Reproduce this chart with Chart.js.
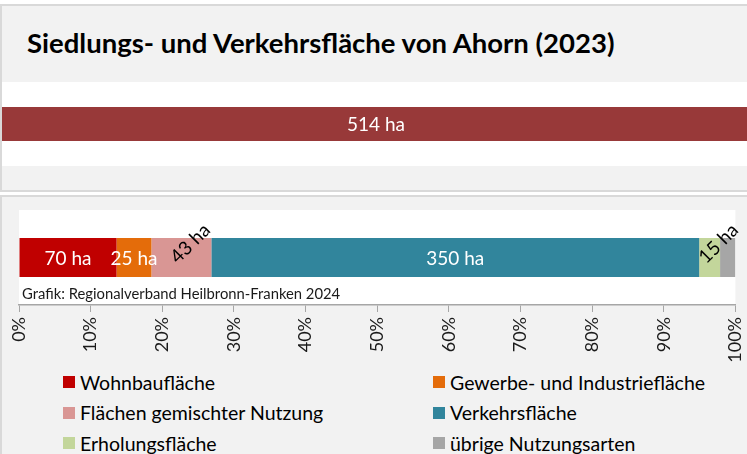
<!DOCTYPE html>
<html lang="de">
<head>
<meta charset="utf-8">
<title>Siedlungs- und Verkehrsfläche von Ahorn (2023)</title>
<script src="https://cdn.jsdelivr.net/npm/chart.js@4.4.1/dist/chart.umd.min.js"></script>
<style>
  html, body { margin: 0; padding: 0; width: 747px; height: 454px; overflow: hidden; background: #fff; }
  body { font-family: Lato, "Open Sans", sans-serif; color: #000; }
  .panel { position: absolute; left: 0; background: #f2f2f2; border: 2px solid #d9d9d9; box-sizing: border-box; overflow: hidden; }
  #kopf { top: 4px; width: 752px; height: 188px; }
  #kopf h1 { position: absolute; left: 25px; top: 23px; margin: 0; font-size: 27.5px; line-height: 27px; font-weight: bold; white-space: nowrap; }
  #gesamtBox { position: absolute; left: 0; top: 76px; width: 748px; height: 84px; background: #fff; }
  #anteile { top: 195px; width: 780px; height: 270px; }
  #anteileBox { position: absolute; left: 0; top: 0; width: 760px; height: 166px; }
  #legende { position: absolute; left: 61px; top: 170px; margin: 0; padding: 0; list-style: none;
             display: grid; grid-template-columns: 370px 370px; grid-auto-rows: 30.5px; }
  #legende li { display: flex; align-items: center; font-size: 19.5px; white-space: nowrap; }
  #legende span.box { display: inline-block; width: 12px; height: 12px; margin-right: 5px; }
</style>
</head>
<body>
<div class="panel" id="kopf">
  <h1>Siedlungs- und Verkehrsfläche von Ahorn (2023)</h1>
  <div id="gesamtBox"><canvas id="gesamtChart"></canvas></div>
</div>
<div class="panel" id="anteile">
  <div id="anteileBox"><canvas id="anteileChart"></canvas></div>
  <ul id="legende"></ul>
</div>
<script>
// Siedlungs- und Verkehrsfläche insgesamt (ha)
const gesamtKategorie = ['Ahorn'];
const gesamtHa = [514];

// Aufteilung nach Nutzungsart (ha)
const kategorien = [
  'Wohnbaufläche',
  'Gewerbe- und Industriefläche',
  'Flächen gemischter Nutzung',
  'Verkehrsfläche',
  'Erholungsfläche',
  'übrige Nutzungsarten'
];
const flaecheHa = [70, 25, 43, 350, 15, 11];
const prozentTicks = [0, 10, 20, 30, 40, 50, 60, 70, 80, 90, 100];
const quelle = 'Grafik: Regionalverband Heilbronn-Franken 2024';

const farben = ['#c00000', '#e46c0a', '#d99694', '#31859c', '#c3d69b', '#a6a6a6'];
// welche Segmente schräg beschriftet werden bzw. gar keine Beschriftung bekommen
const schraeg = [2, 4];
const ohneLabel = [5];

Chart.defaults.font.family = 'Lato, "Open Sans", sans-serif';
Chart.defaults.color = '#000';

const summe = flaecheHa.reduce((a, b) => a + b, 0);

// Balkenbeschriftung "xx ha"
const haLabels = {
  id: 'haLabels',
  afterDatasetsDraw(chart, args, opts) {
    const ctx = chart.ctx;
    ctx.save();
    ctx.font = '19px ' + Chart.defaults.font.family;
    ctx.textBaseline = 'middle';
    ctx.textAlign = 'center';
    chart.data.datasets.forEach((ds, i) => {
      if (opts.skip && opts.skip.includes(i)) return;
      const bar = chart.getDatasetMeta(i).data[0];
      const cx = (bar.x + bar.base) / 2;
      const cy = bar.y;
      const text = opts.werte[i] + ' ha';
      if (opts.schraeg && opts.schraeg.includes(i)) {
        ctx.fillStyle = '#000';
        ctx.save();
        ctx.translate(cx + 9, cy - 14);
        ctx.rotate(-Math.PI / 4);
        ctx.fillText(text, 0, 0);
        ctx.restore();
      } else {
        ctx.fillStyle = '#fff';
        ctx.fillText(text, cx, cy + 1);
      }
    });
    ctx.restore();
  }
};

// weißer Hintergrund der Zeichenfläche + Quellenangabe
const plotFlaeche = {
  id: 'plotFlaeche',
  beforeDraw(chart) {
    const a = chart.chartArea;
    chart.ctx.save();
    chart.ctx.fillStyle = '#fff';
    chart.ctx.fillRect(a.left, a.top, a.right - a.left, a.bottom - a.top);
    chart.ctx.restore();
  },
  afterDraw(chart) {
    const a = chart.chartArea;
    const ctx = chart.ctx;
    ctx.save();
    ctx.font = '14.8px ' + Chart.defaults.font.family;
    ctx.fillStyle = '#1a1a1a';
    ctx.textBaseline = 'alphabetic';
    ctx.fillText(quelle, a.left + 3, a.bottom - 6);
    ctx.restore();
  }
};

new Chart(document.getElementById('gesamtChart'), {
  type: 'bar',
  data: {
    labels: gesamtKategorie,
    datasets: [{
      data: gesamtHa,
      backgroundColor: '#983939',
      barPercentage: 0.405,
      categoryPercentage: 1
    }]
  },
  options: {
    indexAxis: 'y',
    animation: false,
    responsive: true,
    maintainAspectRatio: false,
    layout: { padding: 0 },
    scales: {
      x: { display: false, min: 0, max: gesamtHa[0] },
      y: { display: false }
    },
    plugins: {
      legend: { display: false },
      tooltip: { enabled: false },
      haLabels: { werte: gesamtHa }
    }
  },
  plugins: [haLabels]
});

const anteile = new Chart(document.getElementById('anteileChart'), {
  type: 'bar',
  data: {
    labels: [''],
    datasets: kategorien.map((k, i) => ({
      label: k,
      data: [flaecheHa[i] / summe * 100],
      backgroundColor: farben[i],
      barPercentage: 0.41,
      categoryPercentage: 1
    }))
  },
  options: {
    indexAxis: 'y',
    animation: false,
    responsive: true,
    maintainAspectRatio: false,
    layout: { padding: { left: 17, top: 13, right: 0, bottom: 0 } },
    scales: {
      x: {
        stacked: true,
        min: 0,
        max: 100,
        afterBuildTicks: (scale) => { scale.ticks = prozentTicks.map(v => ({ value: v })); },
        afterFit: (scale) => { scale.height = 58; },
        grid: { drawOnChartArea: false, drawTicks: true, tickLength: 7, color: '#a6a6a6' },
        border: { display: true, color: '#a6a6a6', width: 1.5 },
        ticks: {
          minRotation: 90,
          maxRotation: 90,
          padding: 5,
          color: '#1a1a1a',
          font: { size: 18 },
          callback: (v) => v + '%'
        }
      },
      y: { stacked: true, display: false }
    },
    plugins: {
      legend: { display: false },
      tooltip: { enabled: false },
      haLabels: { werte: flaecheHa, schraeg: schraeg, skip: ohneLabel }
    }
  },
  plugins: [plotFlaeche, haLabels]
});

// Legende in zwei Spalten
const legende = document.getElementById('legende');
anteile.data.datasets.forEach((ds) => {
  const li = document.createElement('li');
  const box = document.createElement('span');
  box.className = 'box';
  box.style.background = ds.backgroundColor;
  li.appendChild(box);
  li.appendChild(document.createTextNode(ds.label));
  legende.appendChild(li);
});
</script>
</body>
</html>
